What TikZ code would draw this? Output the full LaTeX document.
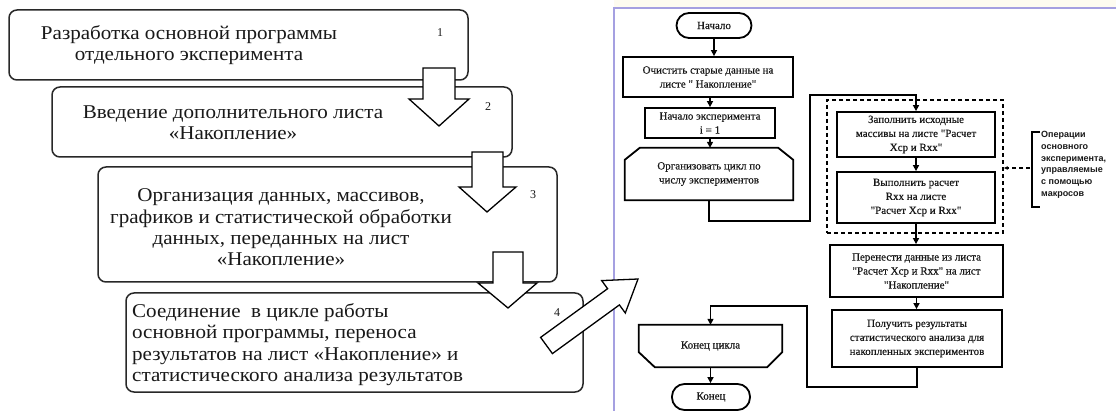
\documentclass[tikz,border=0pt]{standalone}
\usepackage{fontspec}
\setmainfont{Liberation Serif}
\newfontfamily\leftfont[FakeStretch=1.08]{Liberation Serif}
\newfontfamily\flowfont[Ligatures=TeXOff,FakeBold=0.4]{Liberation Serif}
\newfontfamily\notefont{Liberation Sans}
\usetikzlibrary{arrows.meta,calc}
\definecolor{panel}{RGB}{165,160,225}
\definecolor{cream}{RGB}{253,251,240}
\definecolor{boxline}{RGB}{40,40,40}
\definecolor{txt}{RGB}{25,25,25}
\begin{document}
\begin{tikzpicture}[x=1pt,y=-1pt,
  lbox/.style={draw=boxline,line width=1.5pt,rounded corners=8pt,inner sep=0pt},
  ltext/.style={text=txt,align=center,inner sep=0pt,font=\leftfont\fontsize{19.5}{21.3}\selectfont},
  lnum/.style={text=txt,inner sep=0pt,font=\fontsize{12}{14}\selectfont},
  barrow/.style={draw=black,fill=white,line width=1.3pt,line join=miter},
  fbox/.style={draw=black,line width=1.8pt,inner sep=0pt,align=center,text=txt,
    font=\flowfont\fontsize{11}{14}\selectfont},
  fterm/.style={fbox,rounded corners=12.5pt},
  fshape/.style={draw=none,inner sep=0pt,align=center,text=txt,font=\flowfont\fontsize{11}{14}\selectfont},
  fline/.style={line width=1.8pt,line join=miter},
  flow/.style={line width=1.6pt,-{Triangle[length=6pt,width=6pt]}},
  grpbox/.style={draw=black,line width=1.3pt,dash pattern=on 4pt off 3pt,inner sep=0pt},
  notetext/.style={align=left,inner sep=0pt,text=txt,font=\notefont\bfseries\fontsize{9}{11.8}\selectfont}
]
\useasboundingbox (0,0) rectangle (1116,411);
\fill[white] (0,0) rectangle (1116,411);
\fill[cream] (614,0) rectangle (1116,8);
\draw[panel,line width=1.2pt] (614,411) -- (614,8) -- (1116,8);

% ---------- left panel: boxes ----------
\node[lbox,minimum width=459pt,minimum height=70pt] (b1) at (238.5,45) {};
\node[lbox,minimum width=460pt,minimum height=70pt] (b2) at (282,122) {};
\node[lbox,minimum width=459pt,minimum height=115pt] (b3) at (327.5,224.5) {};
\node[lbox,minimum width=457pt,minimum height=99pt] (b4) at (354.5,342.5) {};

\node[ltext] (t1) at (189,45) {Разработка основной программы\\отдельного эксперимента};
\node[ltext] (t2) at (233,123) {Введение дополнительного листа\\«Накопление»};
\node[ltext] (t3) at (281,227.5) {Организация данных, массивов,\\графиков и статистической обработки\\данных, переданных на лист\\«Накопление»};
\node[ltext,align=left,anchor=west] (t4) at (132,344.5) {Соединение~ в цикле работы\\основной программы, переноса\\результатов на лист «Накопление» и\\статистического анализа результатов};

\node[lnum] (n1) at (440,33) {1};
\node[lnum] (n2) at (488,107) {2};
\node[lnum] (n3) at (533,195) {3};
\node[lnum] (n4) at (557,313) {4};

% block arrows
\draw[barrow] (423,68) -- (455,68) -- (455,99) -- (469,99) -- (439,126) -- (409,99) -- (423,99) -- cycle;
\draw[barrow] (472,152) -- (503,152) -- (503,187) -- (516,187) -- (487,212) -- (459,187) -- (472,187) -- cycle;
\draw[barrow] (493,252) -- (523,252) -- (523,283) -- (537,283) -- (508,308) -- (478,283) -- (493,283) -- cycle;
\draw[barrow] (540.6,337.4) -- (607.6,288.7) -- (601.7,280.6) -- (638,279) -- (625.3,313.0) -- (619.4,304.9) -- (552.4,353.6) -- cycle;

% ---------- right panel: flowchart ----------
\node[grpbox,minimum width=176pt,minimum height=133pt] (grp) at (915,166.5) {};

\node[fterm,minimum width=75pt,minimum height=25pt] (start) at (714,25.5) {Начало};
\node[fbox,minimum width=170pt,minimum height=40pt] (clear) at (708,77) {Очистить старые данные на\\листе " Накопление"};
\node[fbox,minimum width=130pt,minimum height=30pt] (init) at (710,123) {Начало эксперимента\\i = 1};
\node[fshape,minimum width=168pt,minimum height=52pt] (loop) at (709,174) {Организовать цикл по\\числу экспериментов};
\draw[fline] (loop.south west) -- ($(loop.north west)+(0,12)$) -- ($(loop.north west)+(15,0)$)
  -- ($(loop.north east)+(-15,0)$) -- ($(loop.north east)+(0,12)$) -- (loop.south east) -- cycle;

\node[fbox,minimum width=158pt,minimum height=45pt] (fill) at (916,134.5) {Заполнить исходные\\массивы на листе "Расчет\\Xcp и Rxx"};
\node[fbox,minimum width=158pt,minimum height=51pt] (calc) at (916,197.5) {Выполнить расчет\\Rxx на листе\\"Расчет Xcp и Rxx"};
\node[fbox,minimum width=173pt,minimum height=52pt] (move) at (916.5,271) {Перенести данные из листа\\"Расчет Xcp и Rxx" на лист\\"Накопление"};
\node[fbox,minimum width=170pt,minimum height=57pt] (res) at (917,338.5) {Получить результаты\\статистического анализа для\\накопленных экспериментов};

\node[fshape,minimum width=143pt,minimum height=42pt] (endl) at (710.5,346) {Конец цикла};
\draw[fline] (endl.north west) -- (endl.north east) -- ($(endl.south east)+(0,-15)$)
  -- ($(endl.south east)+(-15,0)$) -- ($(endl.south west)+(16,0)$) -- ($(endl.south west)+(0,-15)$) -- cycle;
\node[fterm,minimum width=78pt,minimum height=26pt] (stop) at (711,397) {Конец};

\coordinate (l1) at (810,221);
\coordinate (l2) at (810,95);
\coordinate (r1) at (807,387);
\coordinate (r2) at (807,306);

\draw[flow] (start.south) -- (start.south |- clear.north);
\draw[flow] (clear.south -| init.north) -- (init.north);
\draw[flow] (init.south) -- (init.south |- loop.north);
\draw[flow] (loop.south) |- (l1) -- (l2) -| (fill.north);
\draw[flow] (fill.south) -- (calc.north);
\draw[flow] (calc.south) -- (calc.south |- move.north);
\draw[flow] (move.south) -- (move.south |- res.north);
\draw[flow] (res.south) |- (r1) -- (r2) -| (endl.north);
\draw[flow] (endl.south) -- (endl.south |- stop.north);

% annotation
\coordinate (bt) at (1040,132);
\coordinate (bb) at (1040,207);
\coordinate (ann) at (1030,168);
\draw[line width=1.2pt] (bt) -- ++(-8,0) -- ($(bb)+(-8,0)$) -- (bb);
\draw[line width=1.2pt,dash pattern=on 4pt off 3pt,-{Latex[length=4pt,width=4pt]}] (ann) -- (grp.east |- ann);
\node[notetext,anchor=north west] (note) at (1041,131) {Операции\\основного\\эксперимента,\\управляемые\\с помощью\\макросов};
\end{tikzpicture}
\end{document}
